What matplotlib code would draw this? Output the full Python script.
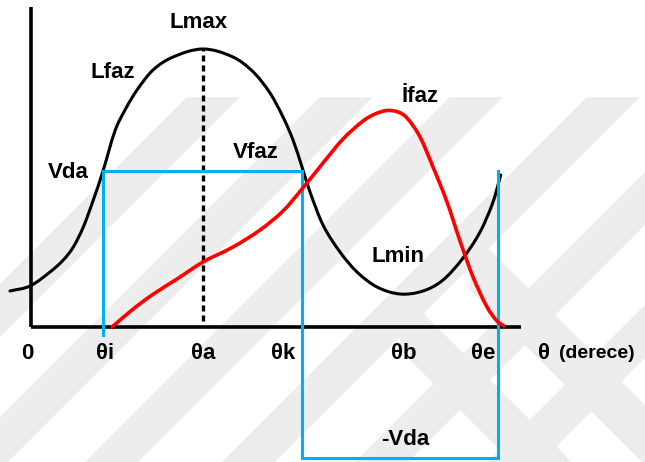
import numpy as np
import matplotlib.pyplot as plt
from matplotlib.path import Path
from matplotlib.patches import PathPatch, Polygon

plt.rcParams['font.family'] = ['Liberation Sans', 'DejaVu Sans']
plt.rcParams['font.weight'] = 'bold'

# faz endüktansı L(θ), θ elektriksel derece, L / Lmax
theta_L = [-19.19, -0.91, 17.36, 29.51, 38.65, 47.79, 56.93, 65.52, 76.75,
           85.89, 96.86, 111.48, 129.75, 157.16, 184.57, 202.85, 218.38, 230.26,
           239.40, 247.62, 254.93, 266.81, 282.35, 297.88, 316.15, 337.17, 358.19,
           376.46, 394.74, 410.27, 422.15, 429.18]
L_faz = [0.1295, 0.1475, 0.1978, 0.2410, 0.2878, 0.3597, 0.4568, 0.5576,
         0.7058, 0.7806, 0.8525, 0.9245, 0.9712, 1.0, 0.9712, 0.9183, 0.8417,
         0.7554, 0.6727, 0.5755, 0.4856, 0.3669, 0.2698, 0.1978, 0.1439, 0.1187,
         0.1295, 0.1691, 0.2482, 0.3417, 0.4496, 0.5468]

# faz akımı
theta_I = [74.01, 92.29, 110.56, 133.41, 157.16, 184.57, 209.25, 230.26, 247.62,
           266.81, 285.09, 303.36, 314.33, 325.29, 335.34, 343.57, 355.45, 367.32,
           380.12, 392.00, 403.88, 416.67, 425.80, 432.20]
i_faz = [0.0, 0.0612, 0.1151, 0.1727, 0.2338, 0.2878, 0.3489, 0.4173, 0.4964,
         0.5899, 0.6763, 0.7410, 0.7662, 0.7788, 0.7734, 0.7518, 0.6835, 0.5755,
         0.4496, 0.3094, 0.1799, 0.0719, 0.0216, 0.0036]

# açı noktaları ve gerilim seviyeleri
th_i, th_a, th_k, th_b, th_e = 66, 157, 248, 339, 427
V_da = 0.56
V_neg = -0.47
L_max = 1.0

theta_V = [th_i, th_i, th_k, th_k, th_e, th_e]
v_faz = [-0.03, V_da, V_da, V_neg, V_neg, V_da]

BLUE = '#00b0f0'
RED = '#ff0000'


def smooth(ax, xs, ys, **kw):
    # noktalardan gecen kubik Hermite egrisi (bezier olarak)
    x = np.asarray(xs, float)
    y = np.asarray(ys, float)
    m = np.empty_like(y)
    m[1:-1] = (y[2:] - y[:-2]) / (x[2:] - x[:-2])
    m[0] = (y[1] - y[0]) / (x[1] - x[0])
    m[-1] = (y[-1] - y[-2]) / (x[-1] - x[-2])
    verts = [(x[0], y[0])]
    codes = [Path.MOVETO]
    for j in range(len(x) - 1):
        h = x[j + 1] - x[j]
        verts += [(x[j] + h / 3, y[j] + m[j] * h / 3),
                  (x[j + 1] - h / 3, y[j + 1] - m[j + 1] * h / 3),
                  (x[j + 1], y[j + 1])]
        codes += [Path.CURVE4] * 3
    ax.add_patch(PathPatch(Path(verts, codes), fill=False, capstyle='round', **kw))


fig = plt.figure(figsize=(6.45, 4.62), dpi=100)

# arka plan filigrani
bg = fig.add_axes([0, 0, 1, 1])
bg.set_xlim(0, 645)
bg.set_ylim(462, 0)
bg.axis('off')
wm = '#ededed'
for xt in [187, 320, 450, 587, 720, 853]:
    bg.add_patch(Polygon([(xt, 97), (xt + 53, 97), (xt + 53 - 500, 597), (xt - 500, 597)],
                         closed=True, color=wm, lw=0))
for x0, y0 in [(470, 230), (400, 290)]:
    bg.add_patch(Polygon([(x0, y0), (x0 + 300, y0 + 300), (x0 + 300, y0 + 360), (x0, y0 + 60)],
                         closed=True, color=wm, lw=0))

ax = fig.add_axes([0, 0, 1, 1])
ax.patch.set_alpha(0)
ax.set_xlim(-28.33, 561.0)
ax.set_ylim(-0.4856, 1.1763)
ax.axis('off')

# eksenler
ax.plot([0, 0], [0, 1.151], color='black', lw=2.6, solid_capstyle='butt', zorder=3)
ax.plot([0, 447.7], [0, 0], color='black', lw=2.6, solid_capstyle='butt', zorder=3)

# Lmax noktasindan kesikli cizgi
ax.plot([th_a, th_a], [0.02, L_max], color='black', lw=2.4, linestyle=(0, (1.8, 1.2)), zorder=2)

smooth(ax, theta_L, L_faz, color='black', lw=2.2, zorder=4)
ax.plot(theta_V, v_faz, color=BLUE, lw=2.2, solid_joinstyle='miter', zorder=5)
smooth(ax, theta_I, i_faz, color=RED, lw=2.6, zorder=6)

fs = 16
ax.text(153.5, 1.097, 'Lmax', fontsize=fs, ha='center', va='center')
ax.text(74.9, 0.917, 'Lfaz', fontsize=fs, ha='center', va='center')
ax.text(33.8, 0.554, 'Vda', fontsize=fs, ha='center', va='center')
ax.text(205.6, 0.629, 'Vfaz', fontsize=fs, ha='center', va='center')
ax.text(355.4, 0.83, 'İfaz', fontsize=fs, ha='center', va='center')
ax.text(335.3, 0.252, 'Lmin', fontsize=fs, ha='center', va='center')
ax.text(341.7, -0.406, '-Vda', fontsize=fs, ha='center', va='center')

ty = -0.094
ax.text(-3.7, ty, '0', fontsize=fs, ha='center', va='center')
ax.text(th_i + 1.6, ty, 'θi', fontsize=fs, ha='center', va='center')
ax.text(th_a, ty, 'θa', fontsize=fs, ha='center', va='center')
ax.text(th_k - 17.7, ty, 'θk', fontsize=fs, ha='center', va='center')
ax.text(th_b + 1.8, ty, 'θb', fontsize=fs, ha='center', va='center')
ax.text(th_e - 14, ty, 'θe', fontsize=fs, ha='center', va='center')
ax.text(468.7, ty, 'θ', fontsize=fs, ha='center', va='center')
ax.text(482.5, ty, '(derece)', fontsize=14, ha='left', va='center')

fig.savefig('out.png', dpi=100)
